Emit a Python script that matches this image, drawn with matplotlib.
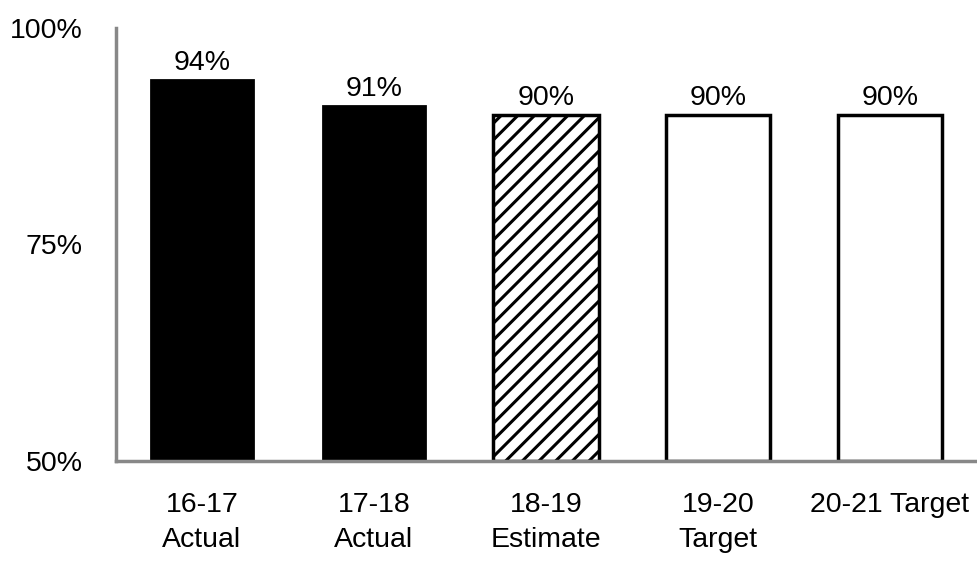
import matplotlib.pyplot as plt
from matplotlib import font_manager

labels = ['16-17\nActual', '17-18\nActual', '18-19\nEstimate', '19-20\nTarget', '20-21 Target']
values = [94, 91, 90, 90, 90]
kinds = ['actual', 'actual', 'estimate', 'target', 'target']

names = {f.name for f in font_manager.fontManager.ttflist}
fam = ['Liberation Sans Narrow', 'Liberation Sans', 'DejaVu Sans'] if 'Liberation Sans Narrow' in names else ['Liberation Sans', 'DejaVu Sans']
plt.rcParams['font.family'] = fam
plt.rcParams['hatch.linewidth'] = 2.2
fs = 20.5

fig = plt.figure(figsize=(9.77, 5.63), dpi=100)
ax = fig.add_axes([116 / 977, 1 - 461 / 563, (976 - 116) / 977, (461 - 28) / 563])

x = list(range(len(values)))
for xi, v, k in zip(x, values, kinds):
    if k == 'actual':
        ax.bar(xi, v - 50, bottom=50, width=0.59, color='black', edgecolor='black', linewidth=2)
    elif k == 'estimate':
        ax.bar(xi, v - 50, bottom=50, width=0.62, color='white', edgecolor='black', linewidth=2.5, hatch='//')
    else:
        ax.bar(xi, v - 50, bottom=50, width=0.6, color='white', edgecolor='black', linewidth=2.5)
    ax.text(xi, v + 0.4, f'{v}%', ha='center', va='bottom', fontsize=fs)

ax.set_xlim(-0.5, len(values) - 0.5)
ax.set_ylim(50, 100)
ax.set_yticks([50, 75, 100])
ax.set_yticklabels(['50%', '75%', '100%'], fontsize=fs)
ax.set_xticks(x)
ax.set_xticklabels(labels, fontsize=fs, linespacing=1.45)
ax.tick_params(axis='both', length=0)
ax.tick_params(axis='y', pad=24)
ax.tick_params(axis='x', pad=22)
for s in ['top', 'right']:
    ax.spines[s].set_visible(False)
for s in ['left', 'bottom']:
    ax.spines[s].set_color('#888888')
    ax.spines[s].set_linewidth(2.5)

fig.savefig('out.png', dpi=100)
